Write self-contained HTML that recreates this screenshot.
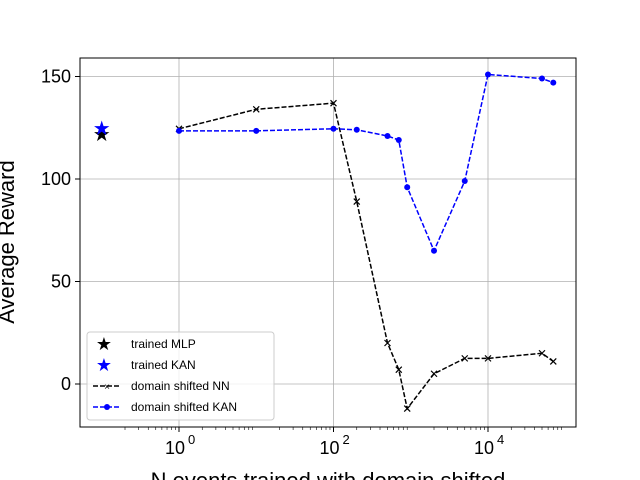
<!DOCTYPE html>
<html><head><meta charset="utf-8"><style>
body{margin:0;background:#fff;}
svg{display:block;font-family:"Liberation Sans","DejaVu Sans",sans-serif;}
</style></head><body>
<svg id="chart" width="640" height="480" viewBox="0 0 640 480">
<g id="grid"></g>
<g id="axes"></g>
<g id="series"></g>
<rect x="80" y="58" width="496" height="369" fill="none" stroke="#000" stroke-width="1"/>
<text transform="translate(14,242) rotate(-90)" text-anchor="middle" font-size="22">Average Reward</text>
<text x="328" y="488" text-anchor="middle" font-size="22">N events trained with domain shifted</text>
<g>
<rect x="87" y="332" width="187" height="88" rx="3" fill="#fff" fill-opacity="0.8" stroke="#ccc"/>
<text x="104" y="350" font-size="18" text-anchor="middle">★</text>
<text x="131" y="348" font-size="12">trained MLP</text>
<text x="104" y="371" font-size="18" text-anchor="middle" fill="#0000ff">★</text>
<text x="131" y="369" font-size="12">trained KAN</text>
<line x1="93" y1="386" x2="121" y2="386" stroke="#000" stroke-width="1.5" stroke-dasharray="5,2"/>
<text x="107" y="390" font-size="10" text-anchor="middle">×</text>
<text x="131" y="390" font-size="12">domain shifted NN</text>
<line x1="93" y1="407" x2="121" y2="407" stroke="#0000ff" stroke-width="1.5" stroke-dasharray="5,2"/>
<circle cx="107" cy="407" r="3" fill="#0000ff"/>
<text x="131" y="411" font-size="12">domain shifted KAN</text>
</g>
</svg>
<script>
const xs = [1,10,100,200,500,700,900,2000,5000,10000,50000,70000];
const nnVals = [124.5,134,137,89,20,7,-12,5,12.5,12.5,15,11];
const kanVals = [123.5,123.5,124.5,124,121,119,96,65,99,151,149,147];
const starX = 0.1;
const mlpStar = 122;
const kanStar = 125;
const yTicks = [0,50,100,150];
const xTickExp = [0,2,4];
const NS='http://www.w3.org/2000/svg';
const L=80,R=576,T=58,B=427;
const X=v=>179+Math.log10(v)*77.25;
const Y=v=>384-v*2.05;
function mk(t,a,p){const e=document.createElementNS(NS,t);for(const k in a)e.setAttribute(k,a[k]);p.appendChild(e);return e;}
const grid=document.getElementById('grid'),axes=document.getElementById('axes'),ser=document.getElementById('series');
yTicks.forEach(v=>{const y=Y(v);
 const g=mk('line',{x1:L,x2:R,y1:y,y2:y,stroke:'#b0b0b0','stroke-width':0.8},grid);
 
 mk('line',{x1:L-5,x2:L,y1:y,y2:y,stroke:'#000'},axes);
 const t=mk('text',{x:L-9,y:y+6,'text-anchor':'end','font-size':18},axes);t.textContent=v;
 });
xTickExp.forEach(e=>{const x=X(Math.pow(10,e));
 const g=mk('line',{x1:x,x2:x,y1:T,y2:B,stroke:'#b0b0b0','stroke-width':0.8},grid);
 
 mk('line',{x1:x,x2:x,y1:B,y2:B+5,stroke:'#000'},axes);
 const t=mk('text',{x:x-4,y:B+27,'text-anchor':'middle','font-size':18},axes);t.textContent='10';
 
 const s=mk('text',{x:x+9,y:B+17,'text-anchor':'start','font-size':13},axes);s.textContent=e;});
for(let e=-1;e<=5;e++)for(let m=2;m<=9;m++){const v=m*Math.pow(10,e),x=X(v);if(x>L&&x<R)mk('line',{x1:x,x2:x,y1:B,y2:B+3,stroke:'#000','stroke-width':0.6},axes);}
function series(vals,color,name,marker){
 const p=mk('polyline',{points:xs.map((x,i)=>X(x)+','+Y(vals[i])).join(' '),fill:'none',stroke:color,'stroke-width':1.5,'stroke-dasharray':'5,2'},ser);
 
 xs.forEach((x,i)=>{const cx=X(x),cy=Y(vals[i]);let m;
  if(marker==='x'){m=mk('path',{d:`M${cx-3},${cy-3}L${cx+3},${cy+3}M${cx-3},${cy+3}L${cx+3},${cy-3}`,stroke:color,'stroke-width':1.2},ser);}
  else m=mk('circle',{cx:cx,cy:cy,r:3,fill:color},ser);
  });
}
series(nnVals,'#000','nn','x');
series(kanVals,'#0000ff','kan','o');
[[mlpStar,'#000','mlp-star'],[kanStar,'#0000ff','kan-star']].forEach(([v,c,n])=>{
 const t=mk('text',{x:X(starX),y:Y(v)+7,'text-anchor':'middle','font-size':20,fill:c},ser);t.textContent='★';
 });
</script>
</body></html>
